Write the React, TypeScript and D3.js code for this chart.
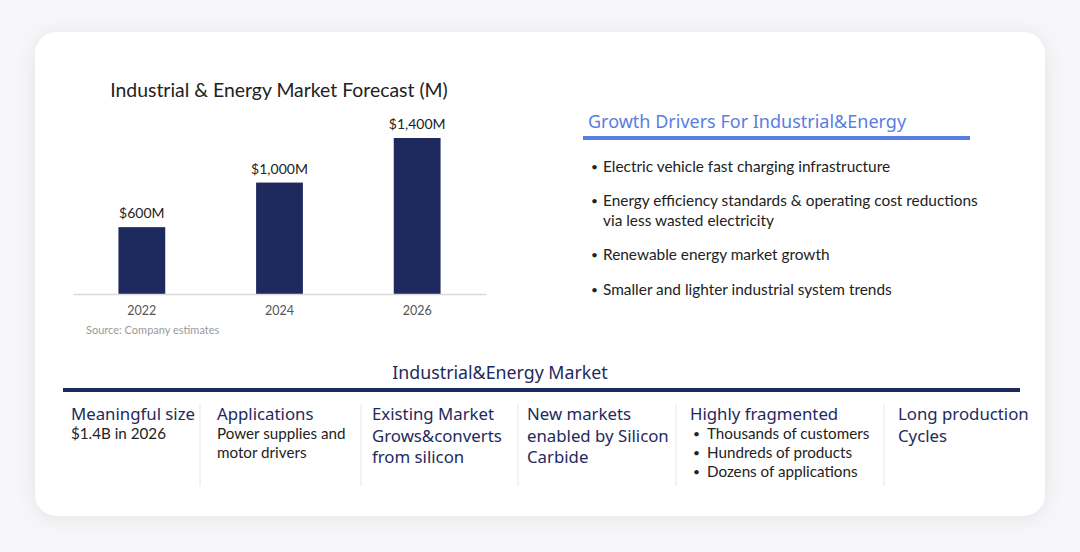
import { useEffect, useRef } from 'react';
import * as d3 from 'd3';

// chart data
const years = ['2022', '2024', '2026'];
const marketValues = [600, 1000, 1400];
const valueLabels = ['$600M', '$1,000M', '$1,400M'];

const drivers = [
  ['Electric vehicle fast charging infrastructure'],
  ['Energy efficiency standards & operating cost reductions', 'via less wasted electricity'],
  ['Renewable energy market growth'],
  ['Smaller and lighter industrial system trends'],
];

const columnHeads = [
  ['Meaningful size'],
  ['Applications'],
  ['Existing Market', 'Grows&converts', 'from silicon'],
  ['New markets', 'enabled by Silicon', 'Carbide'],
  ['Highly fragmented'],
  ['Long production', 'Cycles'],
];
const columnBody = [
  ['$1.4B in 2026'],
  ['Power supplies and', 'motor drivers'],
  [],
  [],
  ['Thousands of customers', 'Hundreds of products', 'Dozens of applications'],
  [],
];
const columnBullets = [false, false, false, false, true, false];

const W = 1080;
const H = 552;
const NAVY = '#1e2a5e';
const BLUE = '#5a7de2';
const SANS = '"Noto Sans", "Open Sans", sans-serif';
const BODY = 'Lato, "Noto Sans", sans-serif';

const App = () => {
  const ref = useRef<SVGSVGElement>(null);

  useEffect(() => {
    const svg = d3.select(ref.current);
    svg.selectAll('*').remove();

    // soft shadow for the card
    const defs = svg.append('defs');
    const f = defs.append('filter').attr('id', 'cardShadow')
      .attr('x', '-10%').attr('y', '-10%').attr('width', '120%').attr('height', '120%');
    f.append('feDropShadow').attr('dx', 0).attr('dy', 2).attr('stdDeviation', 10)
      .attr('flood-color', '#000').attr('flood-opacity', 0.08);

    svg.append('rect').attr('width', W).attr('height', H).attr('fill', '#f7f7f9');
    svg.append('rect')
      .attr('x', 35).attr('y', 32).attr('width', 1010).attr('height', 484)
      .attr('rx', 22).attr('fill', '#fff').attr('filter', 'url(#cardShadow)');

    // ---- bar chart ----
    const x = d3.scaleBand().domain(years).range([73, 486]).padding(0);
    const y = d3.scaleLinear().domain([0, 1400]).range([294, 138]);
    const barW = x.bandwidth() * 0.34;

    svg.append('text')
      .attr('x', 279).attr('y', 97).attr('text-anchor', 'middle')
      .style('font-family', BODY).style('font-size', '19.4px').style('fill', '#222')
      .text('Industrial & Energy Market Forecast (M)');

    svg.append('g').selectAll('rect')
      .data(marketValues)
      .enter()
      .append('rect')
      .attr('x', (d, i) => x(years[i])! + x.bandwidth() / 2 - barW / 2)
      .attr('y', d => y(d))
      .attr('width', barW)
      .attr('height', d => y(0) - y(d))
      .attr('fill', NAVY);

    svg.append('g').selectAll('text')
      .data(marketValues)
      .enter()
      .append('text')
      .attr('x', (d, i) => x(years[i])! + x.bandwidth() / 2)
      .attr('y', d => y(d) - 9)
      .attr('text-anchor', 'middle')
      .style('font-family', BODY).style('font-size', '14px').style('fill', '#222')
      .text((d, i) => valueLabels[i]);

    svg.append('g')
      .attr('transform', `translate(0,${y(0)})`)
      .call(d3.axisBottom(x).tickSize(0).tickPadding(12))
      .call(g => g.select('.domain').attr('stroke', '#d9d9d9').attr('stroke-width', 1.5))
      .call(g => g.selectAll('text')
        .style('font-family', BODY).style('font-size', '12.5px').style('fill', '#555'));

    svg.append('text')
      .attr('x', 86).attr('y', 334)
      .style('font-family', BODY).style('font-size', '11px').style('fill', '#9a9a9a')
      .text('Source: Company estimates');

    // ---- growth drivers ----
    svg.append('text')
      .attr('x', 588).attr('y', 128)
      .style('font-family', SANS).style('font-size', '18px').style('fill', BLUE)
      .text('Growth Drivers For Industrial&Energy');
    svg.append('rect')
      .attr('x', 583).attr('y', 136).attr('width', 387).attr('height', 4).attr('fill', BLUE);

    const driverY = [172, 206, 260, 295];
    drivers.forEach((lines, i) => {
      svg.append('text')
        .attr('x', 591).attr('y', driverY[i] - 1)
        .style('font-family', BODY).style('font-size', '12px').style('fill', '#222')
        .text('•');
      lines.forEach((line, j) => {
        svg.append('text')
          .attr('x', 603).attr('y', driverY[i] + j * 20)
          .style('font-family', BODY).style('font-size', '15.4px').style('fill', '#222')
          .text(line);
      });
    });

    // ---- market summary ----
    svg.append('text')
      .attr('x', 500).attr('y', 379).attr('text-anchor', 'middle')
      .style('font-family', SANS).style('font-size', '17.8px').style('fill', NAVY)
      .text('Industrial&Energy Market');
    svg.append('rect')
      .attr('x', 63).attr('y', 388).attr('width', 957).attr('height', 4).attr('fill', NAVY);

    const colX = [71, 217, 372, 527, 690, 898];
    const sepX = [200, 361, 518, 676, 884];
    sepX.forEach(sx => {
      svg.append('line')
        .attr('x1', sx).attr('x2', sx).attr('y1', 404).attr('y2', 486)
        .attr('stroke', '#e6e6e6').attr('stroke-width', 1);
    });

    columnHeads.forEach((heads, i) => {
      heads.forEach((h, j) => {
        svg.append('text')
          .attr('x', colX[i]).attr('y', 420 + j * 21.5)
          .style('font-family', SANS).style('font-size', '16.8px').style('fill', NAVY)
          .text(h);
      });
      const bodyTop = 420 + heads.length * 21.5 - 3;
      columnBody[i].forEach((b, j) => {
        const by = bodyTop + j * 19;
        if (columnBullets[i]) {
          svg.append('text')
            .attr('x', colX[i] + 3).attr('y', by - 1)
            .style('font-family', BODY).style('font-size', '12px').style('fill', '#222')
            .text('•');
        }
        svg.append('text')
          .attr('x', colX[i] + (columnBullets[i] ? 17 : 0)).attr('y', by)
          .style('font-family', BODY).style('font-size', '15.2px').style('fill', '#222')
          .text(b);
      });
    });
  }, []);

  return (
    <svg
      ref={ref}
      width={W}
      height={H}
      style={{ position: 'absolute', left: 0, top: 0, display: 'block' }}
    />
  );
};

export default App;
